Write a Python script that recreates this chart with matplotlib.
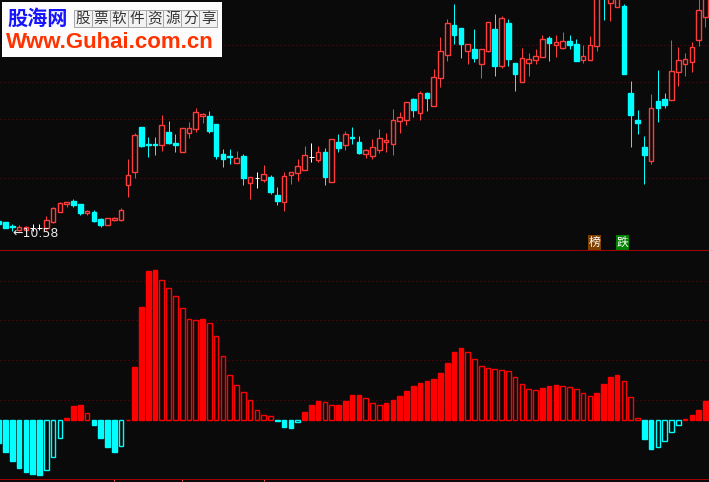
import numpy as np
import matplotlib
matplotlib.use('Agg')
import matplotlib.pyplot as plt
from matplotlib.patches import Rectangle

BG = '#0a0a0a'
RED_K = '#ff3c3c'      # candle red
RED_B = '#ff0000'      # histogram red
CYAN = '#00ffff'
GRID = '#7a0000'
FRAME = '#a00000'
PX = 0.72              # one pixel in points at dpi 100
EDGE = 1.0             # outline width of bodies / bars
W = 0.68               # body width in bar units

# ---- price panel (heights above the panel floor) ----
opens = [29, 28.3, 24.3, 19.7, 20.3, 21.7, 21.7, 22.3, 28.3, 38.3,
         45.7, 49, 46, 36.7, 38.3, 31, 24.7, 30.3, 29.7, 64.7,
         78.3, 123, 106, 106, 104.7, 118, 106.7, 98.3, 116.7, 121.3,
         134.3, 134, 126, 96, 94, 87.3, 94, 67.3, 71.7, 70.3,
         73, 55, 48.3, 75.3, 77.3, 80.3, 93, 90, 98, 68.3,
         108, 105.3, 113, 108, 96.3, 94.3, 100.3, 108.3, 106.3, 129.3,
         130.3, 151, 137.3, 157, 144.3, 172.3, 194.7, 225, 222, 199.3,
         201, 185.7, 199, 221, 184.3, 227, 187, 168.3, 187.3, 190.3,
         193.3, 212, 205, 202.3, 209, 206, 190.3, 190.3, 203.7, 280,
         246.7, 243.3, 244, 157, 130, 103, 89, 149, 151, 150.3,
         177.7, 186.3, 188.3, 210.3, 232.7]
closes = [26.5, 22.3, 23.3, 22.7, 22.7, 21.7, 21.7, 30, 41.7, 47,
          48, 45, 37.3, 39, 29.3, 25, 32, 31.7, 40, 74.7,
          115, 104.3, 105, 105, 124.7, 107.3, 105.3, 121.7, 122, 137.7,
          136, 119.3, 94.3, 91.3, 92.7, 91.7, 72.3, 72.7, 71.7, 76,
          58, 49, 74, 77.7, 84, 94.7, 93, 97.7, 73, 110.7,
          102.3, 115.7, 112.3, 97, 99.7, 103, 112, 109.7, 130, 132.7,
          147.7, 140.3, 156.7, 152.3, 172.7, 198.7, 226.7, 215.3, 206.3, 205.7,
          192.3, 200.7, 227.7, 184.3, 231.7, 191.3, 176.3, 191.7, 190.7, 193.7,
          210.7, 207, 208, 208.7, 205, 189, 193.7, 204.7, 258, 255,
          275, 280, 176.3, 135.3, 127.3, 95, 142, 142.3, 145.3, 179,
          189.7, 191, 203, 239.7, 255]
highs = [30, 28.5, 25.7, 24.7, 24, 25.7, 25.7, 34, 43.3, 48.3,
         48, 51, 46, 40.5, 39.7, 32.3, 32, 33, 41.7, 90.7,
         117.3, 123, 113.3, 112.7, 135, 129, 115.7, 121.7, 128.3, 142.3,
         136.7, 139, 126, 101, 101, 99, 96, 72.7, 77.7, 85,
         75, 63, 78, 77.7, 91, 104.3, 107, 104.3, 102, 110.7,
         116, 119, 123, 114, 101, 111, 121, 117, 141, 138,
         147.7, 152, 158.7, 158, 181, 213, 231, 246, 222, 205.7,
         221, 200.7, 227.7, 236, 234, 231, 187, 202, 197, 201,
         215, 214, 215, 218, 215, 211, 205, 214, 262, 285,
         280, 285, 246, 169, 140, 114, 156, 180, 157, 210,
         203, 197, 208, 252, 258]
lows = [26, 22, 18.8, 19.3, 19.3, 19.3, 20, 20.3, 27.3, 38.3,
        42.7, 43, 35, 35.5, 27.7, 23.3, 24.7, 29, 29, 52.7,
        71.7, 103.3, 93.3, 95, 99.3, 106, 98.3, 98.3, 111.7, 118.3,
        126.7, 116.7, 91, 83.3, 86, 87.3, 65, 51, 62.3, 68.3,
        56, 45, 39, 66, 69, 80.3, 88, 88, 65, 68.3,
        98, 100, 106, 96, 92, 91, 97, 98, 95, 117.3,
        125.3, 133, 130.3, 139.3, 144.3, 163.3, 189.3, 206.3, 192.3, 186.3,
        188.3, 172.3, 197.7, 174.3, 182.3, 184.3, 159.3, 168.3, 174.3, 186.3,
        193.3, 189, 193, 201, 201, 189, 187, 190.3, 199, 230,
        229.3, 243.3, 176.3, 103.3, 116.3, 66.3, 86.3, 128.3, 142.3, 150.3,
        164.3, 174.3, 178.3, 204.3, 223.3]
price_grid = [205, 167.7, 131, 71.7]
low_label = '←10.58'

# ---- indicator panel ----
osc = [-23, -31.3, -40.3, -47.3, -51.3, -53.3, -54.3, -49.3, -37, -18,
       2.3, 14.3, 15.3, 7, -4.3, -17.3, -26.3, -31.3, -26, 0.7,
       53.3, 113.3, 149.3, 150.3, 140, 132, 124, 112, 101, 100,
       101.3, 97, 84, 64, 45, 35, 28, 20, 10, 5,
       4, -0.7, -6.3, -7.3, -1.5, 8.3, 15.3, 19.3, 18.3, 15.3,
       15.3, 19.3, 25.3, 25.3, 22.3, 17.3, 15.3, 17.3, 20.3, 24.3,
       29.3, 34.3, 37.3, 39.3, 41.3, 47.3, 57.3, 68.3, 72.3, 68.3,
       61.3, 54.3, 52.3, 51.3, 50.3, 49.3, 43.3, 36.3, 31.3, 30.3,
       32.3, 34.3, 35.3, 34.3, 33.3, 31.3, 27.3, 24.3, 27.3, 36.3,
       43.3, 45.3, 39.3, 23.3, 2, -18.3, -28.3, -27, -21, -12,
       -5, 1.3, 5.3, 10.3, 19.3]
osc_grid = [20, 60, 100, 139]
date_marks = [17, 27, 39]

logo_cn = '股海网'
logo_cells = '股票软件资源分享'
logo_url = 'Www.Guhai.com.cn'
tags = ['榜', '跌']


def main():
    fig = plt.figure(figsize=(7.09, 4.82), dpi=100, facecolor=BG)
    ax1 = fig.add_axes([0, 232 / 482, 1, 250 / 482], facecolor=BG)
    ax2 = fig.add_axes([0, 2.7 / 482, 1, 229.3 / 482], facecolor=BG)

    x = np.arange(len(opens))
    o = np.array(opens)
    c = np.array(closes)
    h = np.array(highs)
    l = np.array(lows)

    up = c > o
    down = c < o
    flat = c == o

    # wicks
    wick_col = np.where(up, RED_K, np.where(down, CYAN, '#ffffff'))
    ax1.vlines(x, l, h, colors=wick_col, lw=PX, zorder=2)
    # bodies
    ax1.bar(x[up], (c - o)[up], bottom=o[up], width=W, facecolor=BG,
            edgecolor=RED_K, lw=EDGE, zorder=3)
    ax1.bar(x[down], (o - c)[down], bottom=c[down], width=W, facecolor=CYAN,
            edgecolor=CYAN, lw=EDGE, zorder=3)
    ax1.hlines(o[flat], x[flat] - W / 2, x[flat] + W / 2, colors='#ffffff',
               lw=PX, zorder=3)

    for g in price_grid:
        ax1.axhline(g, color=GRID, lw=PX, ls=(0, (1, 3)), zorder=1)

    i_min = int(np.argmin(l))
    ax1.text(i_min, l[i_min] - 2, low_label, color='#e8e8e8', fontsize=9,
             ha='left', va='center', zorder=5)

    ax1.set_xlim(0.19, 104.52)
    ax1.set_ylim(0, 250)
    ax1.set_xticks([])
    ax1.set_yticks([])
    for s in ax1.spines.values():
        s.set_visible(False)

    # histogram
    v = np.array(osc)
    prev = np.concatenate([[0], v[:-1]])
    solid = (np.sign(v) != np.sign(prev)) | (np.abs(v) >= np.abs(prev))
    col = np.where(v >= 0, RED_B, CYAN)
    face = np.where(solid, col, BG)
    ax2.bar(x, v, width=W, color=face, edgecolor=col, lw=EDGE, zorder=3)

    for g in osc_grid:
        ax2.axhline(g, color=GRID, lw=PX, ls=(0, (1, 3)), zorder=1)

    ax2.set_xlim(0.19, 104.52)
    ax2.set_ylim(-59, 170.3)
    ax2.set_yticks([])
    ax2.set_xticks(date_marks)
    ax2.tick_params(axis='x', direction='out', length=2 * PX, width=PX,
                    color='#ff5a5a', labelbottom=False)
    for side in ['left', 'right']:
        ax2.spines[side].set_visible(False)
    for side in ['top', 'bottom']:
        ax2.spines[side].set_color(FRAME)
        ax2.spines[side].set_linewidth(PX)

    # overlay in pixel coordinates: logo and tags
    ov = fig.add_axes([0, 0, 1, 1], facecolor='none')
    ov.set_xlim(0, 709)
    ov.set_ylim(482, 0)
    ov.axis('off')
    ov.add_patch(Rectangle((2, 2), 220, 55, facecolor='#fcfcfc',
                           edgecolor='none', zorder=1))
    ov.text(7, 18, logo_cn, color='#1414ff', fontsize=14.5, fontweight='bold',
            family=['Noto Sans CJK SC', 'DejaVu Sans'], ha='left',
            va='center', zorder=3)
    cw = 143 / len(logo_cells)
    for k, ch in enumerate(logo_cells):
        ov.add_patch(Rectangle((74 + k * cw, 10), cw, 17, facecolor='#f2f2f2',
                               edgecolor='#a8a8a8', lw=PX, zorder=2))
        ov.text(74 + (k + 0.5) * cw, 18.5, ch, color='#333333', fontsize=10.5,
                family=['Noto Sans CJK SC', 'DejaVu Sans'], ha='center',
                va='center', zorder=3)
    ov.text(6, 42, logo_url, color='#ff3300', fontsize=16, fontweight='bold',
            family=['Liberation Sans', 'DejaVu Sans'], ha='left',
            va='center', zorder=3)

    tag_x = [594.5, 622.5]
    tag_bg = ['#804000', '#008000']
    for tx, t, bgc in zip(tag_x, tags, tag_bg):
        ov.text(tx, 242.5, t, color='#ffffff', fontsize=8.5,
                family=['Noto Sans CJK SC', 'DejaVu Sans'], ha='center',
                va='center', zorder=3,
                bbox=dict(boxstyle='square,pad=0.08', facecolor=bgc,
                          edgecolor='none'))

    fig.savefig('out.png', dpi=100, facecolor=BG)


if __name__ == '__main__':
    main()
